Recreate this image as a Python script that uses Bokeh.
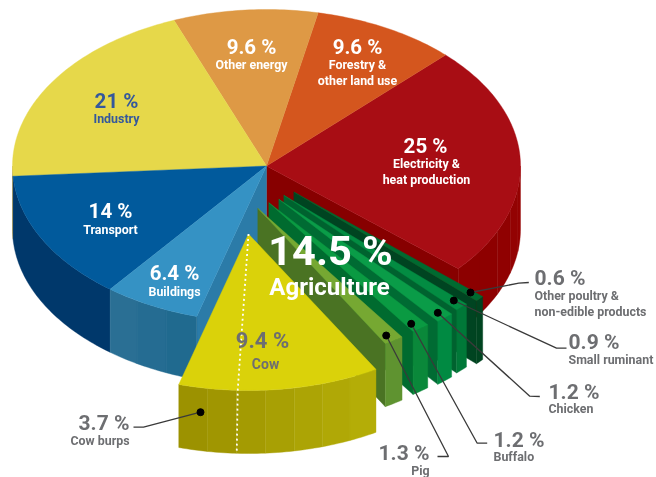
import math
from bokeh.plotting import figure
from bokeh.models import Range1d
from bokeh.core.properties import value
from bokeh.embed import file_html
from bokeh.resources import INLINE

# ---- data (shares of emissions, %) ----
main_names = ["Electricity & heat production", "Forestry & other land use", "Other energy",
              "Industry", "Transport", "Buildings"]
main_shares = [25, 9.6, 9.6, 21, 14, 6.4]
main_pct = ["25 %", "9.6 %", "9.6 %", "21 %", "14 %", "6.4 %"]
agri_total = 14.5
cow_share = 9.4
burps_share = 3.7
fin_names = ["Pig", "Buffalo", "Chicken", "Small ruminant", "Other poultry & non-edible products"]
fin_shares = [1.3, 1.2, 1.2, 0.9, 0.6]

# ---- layout of the tilted pie ----
CX, CY, RX, RY, DEPTH = 266, 165.5, 254, 156.5, 63
DEG_PER_PCT = 3.447
COW_DEG_PER_PCT = 4.9
START = -41.0
main_colors = ["#a80d14", "#d4561e", "#de9945", "#e6d84a", "#015a9c", "#3592c4"]
cow_offset = (-18, 68)
fin_offsets = [(-8.7, 42.3), (2.3, 36.7), (12.3, 33.3), (17.3, 29.3), (27.3, 26.0)]
fin_top = ["#76a832", "#0a9a42", "#0a9c48", "#038c42", "#006a30"]
fin_wall = ["#4a7323", "#006b2f", "#006b33", "#00622f", "#004421"]
fin_front = ["#5f9330", "#0a883a", "#008a42", "#007838", "#004420"]

p = figure(width=656, height=477, x_range=Range1d(0, 656), y_range=Range1d(477, 0),
           output_backend="svg", toolbar_location=None, min_border=0,
           outline_line_color=None, background_fill_color="white", border_fill_color="white")
p.axis.visible = False
p.grid.visible = False
p.styles = {"position": "fixed", "left": "0px", "top": "0px"}


def pt(t, c=(CX, CY), d=0):
    a = math.radians(t)
    return c[0] + RX * math.cos(a), c[1] - RY * math.sin(a) + d


def arc(t0, t1, c=(CX, CY), d=0):
    n = max(2, int(abs(t1 - t0)) + 2)
    return [pt(t0 + (t1 - t0) * i / (n - 1), c, d) for i in range(n)]


def poly(points, color):
    xs, ys = zip(*points)
    p.patch(list(xs), list(ys), fill_color=color, line_color=color, line_width=0.4)


def lerp(c0, c1, f):
    a = [int(c0[i:i + 2], 16) for i in (1, 3, 5)]
    b = [int(c1[i:i + 2], 16) for i in (1, 3, 5)]
    return "#%02x%02x%02x" % tuple(round(u + (v - u) * f) for u, v in zip(a, b))


def wall(t0, t1, c, c0, c1, n=6):
    for i in range(n):
        a = t0 + (t1 - t0) * i / n
        b = t0 + (t1 - t0) * (i + 1) / n
        poly(arc(a, b, c) + arc(b, a, c, DEPTH), lerp(c0, c1, i / max(1, n - 1)))


# main slices: angles follow the shares
bounds = [START]
for s in main_shares:
    bounds.append(bounds[-1] + s * DEG_PER_PCT)
centre = (CX, CY)

# cut faces
poly([centre] + [pt(bounds[0])] + [pt(bounds[0], d=DEPTH)] + [(CX, CY + DEPTH)], "#870000")
poly([centre] + [pt(bounds[-1])] + [pt(bounds[-1], d=DEPTH)] + [(CX, CY + DEPTH)], "#2b7ba8")

# outer walls
wall(bounds[0], 0, centre, "#8c0000", "#950202", 5)
wall(180, bounds[4], centre, "#a8903a", "#a8903a", 1)
wall(bounds[4], bounds[5], centre, "#00386b", "#003466", 1)
wall(bounds[5], bounds[6], centre, "#2a6f94", "#206a8f", 3)

# tops
for i, col in enumerate(main_colors):
    poly([centre] + arc(bounds[i], bounds[i + 1]), col)

# fins, farthest first
cow_start = bounds[-1]
cow_end = cow_start + cow_share * COW_DEG_PER_PCT
fin_bounds = [cow_end - 360]
for s in fin_shares:
    fin_bounds.append(fin_bounds[-1] + s * DEG_PER_PCT)
for i in reversed(range(len(fin_shares))):
    ax, ay = CX + fin_offsets[i][0], CY + fin_offsets[i][1]
    a = (ax, ay)
    t0, t1 = fin_bounds[i], fin_bounds[i + 1]
    poly([a, pt(t0, a), pt(t0, a, DEPTH), (ax, ay + DEPTH)], fin_wall[i])
    poly(arc(t0, t1, a) + arc(t1, t0, a, DEPTH), fin_front[i])
    poly([a] + arc(t0, t1, a), fin_top[i])

# cow
cow_c = (CX + cow_offset[0], CY + cow_offset[1])
wall(cow_start, cow_end, cow_c, "#9c9200", "#b4ad07", 7)
poly([cow_c] + arc(cow_start, cow_end, cow_c), "#dad20a")
t_dot = cow_start + burps_share * 3.65
rim = pt(t_dot, cow_c)
p.line([cow_c[0], rim[0], rim[0] - 1], [cow_c[1], rim[1], rim[1] + DEPTH],
       line_color="white", line_width=1.8, line_dash="2 3")

# leader lines
leaders = [
    ([200, 143, 133], [411.7, 426.7, 426.7]),
    ([385.7, 448, 437], [335, 456, 456]),
    ([410.7, 476.7, 486.7], [323.3, 442.7, 442.7]),
    ([437.3, 529.3, 539.3], [312.3, 395.7, 396]),
    ([453.3, 556, 566], [300, 347.7, 347.7]),
    ([470, 518.3, 528.3], [292, 282.7, 282]),
]
for xs, ys in leaders:
    p.line(xs, ys, line_color="#3a3a3a", line_width=1.3)
    p.scatter([xs[0]], [ys[0]], size=7, color="black")


def label(x, y, s, size, color, bold=False, align="center"):
    p.text([x], [y], text=[s], text_font=value("Roboto"), text_font_size=value(size),
           text_color=color, text_align=align, text_baseline="middle",
           text_font_style="bold" if bold else "normal")


GREY = "#6d6e71"
WHITE = "#ffffff"
BLUE = "#34589c"
B, S = "20.5px", "12.4px"
label(116, 100, main_pct[3], B, BLUE, True)
label(116, 118, main_names[3], S, BLUE, True)
label(251, 46, main_pct[2], B, WHITE, True)
label(251, 64, main_names[2], S, WHITE, True)
label(357, 46, main_pct[1], B, WHITE, True)
label(357, 64, "Forestry &", S, WHITE, True)
label(357, 80, "other land use", S, WHITE, True)
label(425, 145, main_pct[0], B, WHITE, True)
label(426, 163, "Electricity &", S, WHITE, True)
label(426, 179, "heat production", S, WHITE, True)
label(110, 210, main_pct[4], B, WHITE, True)
label(110, 229, main_names[4], S, WHITE, True)
label(174, 272, main_pct[5], B, WHITE, True)
label(174, 291, main_names[5], S, WHITE, True)
label(330, 250, "%.1f %%" % agri_total, "41.5px", WHITE, True)
label(329, 286, "Agriculture", "24px", WHITE, True)
label(262, 340, "%.1f %%" % cow_share, "22px", GREY, True)
label(265, 363, "Cow", "14px", GREY, True)
label(129, 422, "%.1f %%" % burps_share, "21px", GREY, True, "right")
label(129, 440, "Cow burps", S, GREY, True, "right")
label(429, 452, "%.1f %%" % fin_shares[0], "21px", GREY, True, "right")
label(429, 470, fin_names[0], S, GREY, True, "right")
label(493, 439, "%.1f %%" % fin_shares[1], "21px", GREY, True, "left")
label(493, 456, fin_names[1], S, GREY, True, "left")
label(548, 391, "%.1f %%" % fin_shares[2], "21px", GREY, True, "left")
label(548, 408, fin_names[2], S, GREY, True, "left")
label(568, 341, "%.1f %%" % fin_shares[3], "21px", GREY, True, "left")
label(568, 359, fin_names[3], S, GREY, True, "left")
label(534, 277, "%.1f %%" % fin_shares[4], "21px", GREY, True, "left")
label(534, 295, "Other poultry &", S, GREY, True, "left")
label(534, 311, "non-edible products", S, GREY, True, "left")

open("out.html", "w").write(file_html(p, INLINE))
